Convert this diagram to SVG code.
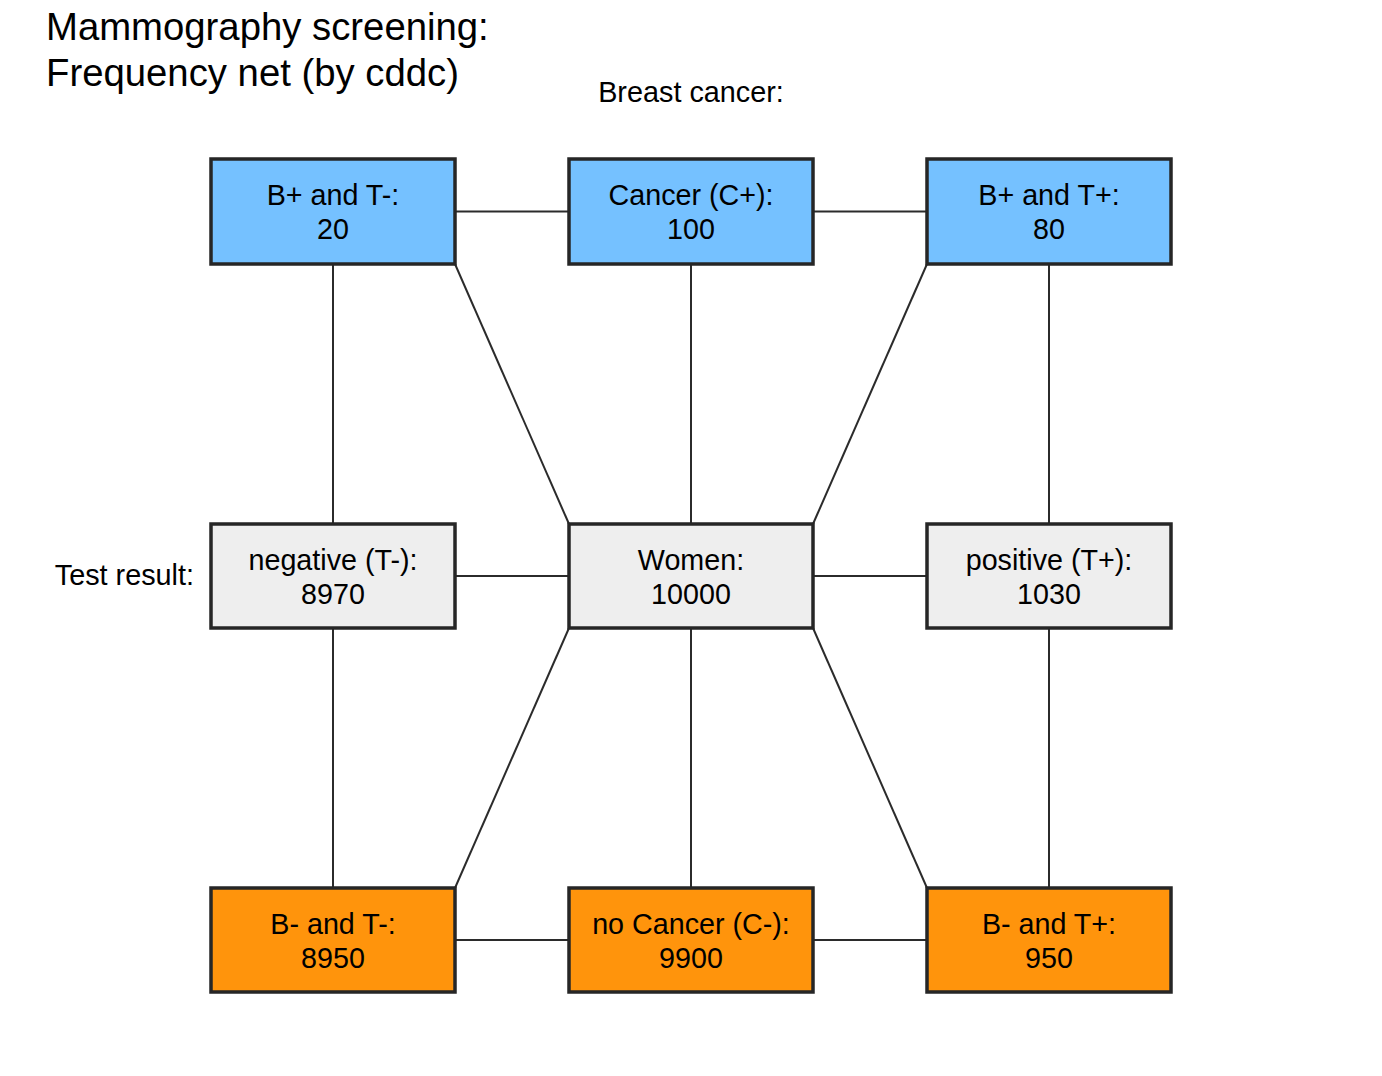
<svg xmlns="http://www.w3.org/2000/svg" width="1382" height="1076" viewBox="0 0 1382 1076">
<style>
text { font-family: "Liberation Sans", Arial, sans-serif; fill: #000; }
.lbl { font-size: 28.7px; text-anchor: middle; }
.title { font-size: 38.3px; }
.side { font-size: 28.8px; }
.box { stroke: #262626; stroke-width: 3.5; }
.pos { fill: #75C1FF; }
.neu { fill: #EEEEEE; }
.neg { fill: #FF940C; }
#connectors line { stroke: #2b2b2b; stroke-width: 2; }
</style>
<rect width="1382" height="1076" fill="#FFFFFF"/>
<g id="title">
<text class="title" x="46" y="40">Mammography screening:</text>
<text class="title" x="46" y="86">Frequency net (by cddc)</text>
</g>
<text class="side" x="691" y="102" text-anchor="middle">Breast cancer:</text>
<text class="side" x="194" y="585" text-anchor="end">Test result:</text>
<g id="connectors">
<line x1="455" y1="211.5" x2="569" y2="211.5"/>
<line x1="813" y1="211.5" x2="927" y2="211.5"/>
<line x1="455" y1="576" x2="569" y2="576"/>
<line x1="813" y1="576" x2="927" y2="576"/>
<line x1="455" y1="940" x2="569" y2="940"/>
<line x1="813" y1="940" x2="927" y2="940"/>
<line x1="333" y1="264" x2="333" y2="524"/>
<line x1="691" y1="264" x2="691" y2="524"/>
<line x1="1049" y1="264" x2="1049" y2="524"/>
<line x1="333" y1="628" x2="333" y2="888"/>
<line x1="691" y1="628" x2="691" y2="888"/>
<line x1="1049" y1="628" x2="1049" y2="888"/>
<line x1="455" y1="264" x2="569" y2="524"/>
<line x1="927" y1="264" x2="813" y2="524"/>
<line x1="569" y1="628" x2="455" y2="888"/>
<line x1="813" y1="628" x2="927" y2="888"/>
</g>
<g id="node-bpt-neg">
<rect class="box pos" x="211" y="159" width="244" height="105"/>
<text class="lbl" x="333" y="205">B+ and T-:</text>
<text class="lbl" x="333" y="239">20</text>
</g>
<g id="node-cancer">
<rect class="box pos" x="569" y="159" width="244" height="105"/>
<text class="lbl" x="691" y="205">Cancer (C+):</text>
<text class="lbl" x="691" y="239">100</text>
</g>
<g id="node-bpt-pos">
<rect class="box pos" x="927" y="159" width="244" height="105"/>
<text class="lbl" x="1049" y="205">B+ and T+:</text>
<text class="lbl" x="1049" y="239">80</text>
</g>
<g id="node-negative">
<rect class="box neu" x="211" y="524" width="244" height="104"/>
<text class="lbl" x="333" y="569.5">negative (T-):</text>
<text class="lbl" x="333" y="603.5">8970</text>
</g>
<g id="node-women">
<rect class="box neu" x="569" y="524" width="244" height="104"/>
<text class="lbl" x="691" y="569.5">Women:</text>
<text class="lbl" x="691" y="603.5">10000</text>
</g>
<g id="node-positive">
<rect class="box neu" x="927" y="524" width="244" height="104"/>
<text class="lbl" x="1049" y="569.5">positive (T+):</text>
<text class="lbl" x="1049" y="603.5">1030</text>
</g>
<g id="node-bmt-neg">
<rect class="box neg" x="211" y="888" width="244" height="104"/>
<text class="lbl" x="333" y="933.5">B- and T-:</text>
<text class="lbl" x="333" y="967.5">8950</text>
</g>
<g id="node-nocancer">
<rect class="box neg" x="569" y="888" width="244" height="104"/>
<text class="lbl" x="691" y="933.5">no Cancer (C-):</text>
<text class="lbl" x="691" y="967.5">9900</text>
</g>
<g id="node-bmt-pos">
<rect class="box neg" x="927" y="888" width="244" height="104"/>
<text class="lbl" x="1049" y="933.5">B- and T+:</text>
<text class="lbl" x="1049" y="967.5">950</text>
</g>
</svg>
